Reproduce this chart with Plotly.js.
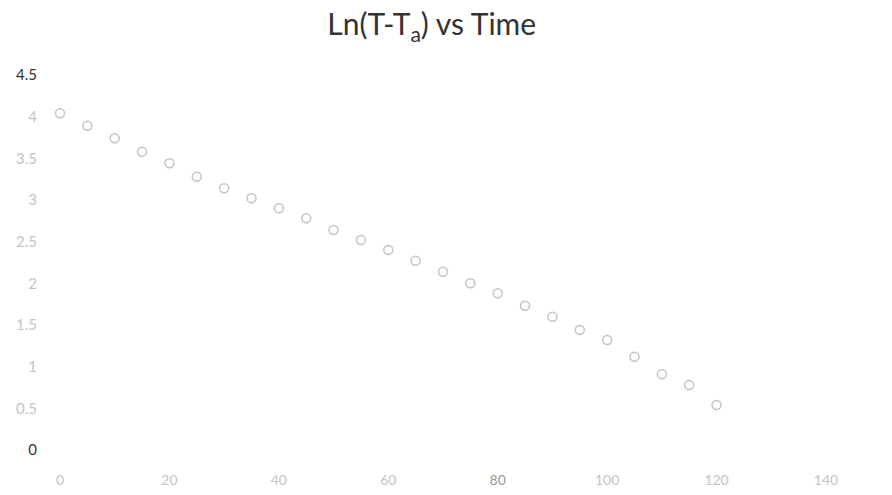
<!DOCTYPE html>
<html>
<head>
<meta charset="utf-8">
<script src="https://cdn.plot.ly/plotly-3.0.1.min.js"></script>
<style>html,body{margin:0;padding:0;background:#fff;}#chart{width:892px;height:495px;}</style>
</head>
<body>
<div id="chart"></div>
<script>
var timeValues = [0, 5, 10, 15, 20, 25, 30, 35, 40, 45, 50, 55, 60, 65, 70, 75, 80, 85, 90, 95, 100, 105, 110, 115, 120];
var lnValues = [4.04, 3.89, 3.74, 3.58, 3.44, 3.28, 3.14, 3.02, 2.90, 2.78, 2.64, 2.52, 2.40, 2.27, 2.14, 2.00, 1.88, 1.73, 1.60, 1.44, 1.32, 1.12, 0.91, 0.78, 0.54];
var xTickVals = [0, 20, 40, 60, 80, 100, 120, 140];
var xTickText = ['0', '20', '40', '60', '80', '100', '120', '140'];
var yTickVals = [0, 0.5, 1, 1.5, 2, 2.5, 3, 3.5, 4, 4.5];
var yTickText = ['0', '0.5', '1', '1.5', '2', '2.5', '3', '3.5', '4', '4.5'];
var titleText = 'Ln(T-T<sub>a</sub>) vs Time';

var faint = '#c4c4c4';
var dark = '#333333';
var yText = yTickText.map(function (t) {
  var c = (t === '0' || t === '4.5') ? dark : faint;
  return '<span style="color:' + c + '">' + t + '</span>';
});
var xText = xTickText.map(function (t) {
  var c = (t === '80') ? '#999999' : faint;
  return '<span style="color:' + c + '">' + t + '</span>';
});

var trace = {
  x: timeValues,
  y: lnValues,
  mode: 'markers',
  type: 'scatter',
  cliponaxis: false,
  marker: {
    symbol: 'circle-open',
    size: 9,
    color: 'rgba(135,135,150,0.5)',
    line: {width: 1.5, color: 'rgba(135,135,150,0.5)'}
  },
  hoverinfo: 'x+y'
};

var layout = {
  width: 892,
  height: 495,
  paper_bgcolor: '#ffffff',
  plot_bgcolor: '#ffffff',
  showlegend: false,
  margin: {l: 60, r: 66, t: 75, b: 45},
  title: {
    text: titleText,
    x: 0.484,
    xanchor: 'center',
    y: 0.95,
    yanchor: 'middle',
    font: {family: 'Lato, sans-serif', size: 30, color: '#333333'}
  },
  xaxis: {
    range: [0, 140],
    tickvals: xTickVals,
    ticktext: xText,
    showgrid: false,
    zeroline: false,
    showline: false,
    ticks: '',
    ticklabelstandoff: 20,
    tickfont: {family: 'Lato, sans-serif', size: 14, color: faint}
  },
  yaxis: {
    range: [0, 4.5],
    tickvals: yTickVals,
    ticktext: yText,
    showgrid: false,
    zeroline: false,
    showline: false,
    ticks: '',
    ticklabelstandoff: 22,
    tickfont: {family: 'Lato, sans-serif', size: 15, color: faint}
  }
};

Plotly.newPlot('chart', [trace], layout, {displayModeBar: false, staticPlot: true});
</script>
</body>
</html>
